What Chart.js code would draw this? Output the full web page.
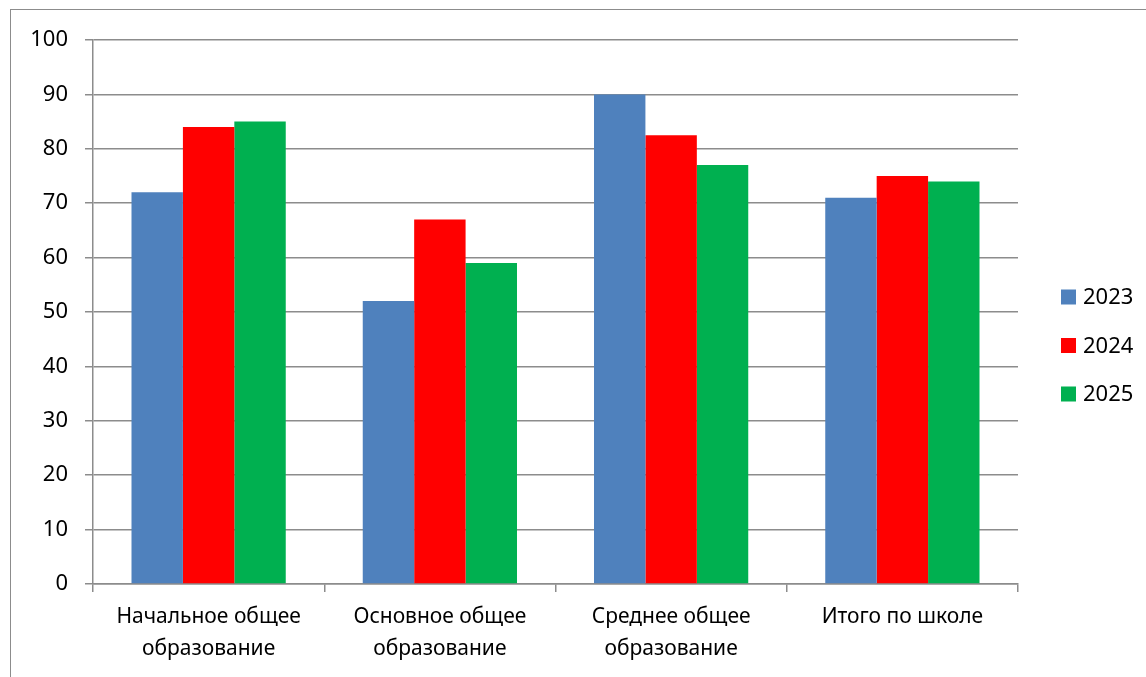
<!DOCTYPE html>
<html lang="ru">
<head>
<meta charset="utf-8">
<title>Успеваемость по уровням образования</title>
<script src="https://cdn.jsdelivr.net/npm/chart.js@4.4.1/dist/chart.umd.min.js"></script>
<style>
  html, body { margin: 0; padding: 0; background: #fff; overflow: hidden; }
  #wrap { position: relative; width: 1146px; height: 677px; }
  #frame {
    position: absolute; left: 10px; top: 9px; width: 1300px; height: 900px;
    border: 1px solid #8c8c8c; box-sizing: border-box; pointer-events: none;
  }
  #chart { position: absolute; left: 0; top: 0; }
</style>
</head>
<body>
<div id="wrap">
  <div id="frame"></div>
  <canvas id="chart" width="1146" height="677"></canvas>
</div>
<script>
// ── Data ────────────────────────────────────────
const categories = [
  ['Начальное общее', 'образование'],
  ['Основное общее', 'образование'],
  ['Среднее общее', 'образование'],
  ['Итого по школе'],
];
const seriesNames  = ['2023', '2024', '2025'];
const values2023   = [72, 52, 90, 71];
const values2024   = [84, 67, 82.5, 75];
const values2025   = [85, 59, 77, 74];
const seriesColors = ['#4F81BD', '#FF0000', '#00B050'];
const yTicks       = [0, 10, 20, 30, 40, 50, 60, 70, 80, 90, 100];

const FONT = "'Noto Sans', 'Open Sans', sans-serif";
const GRID = '#8c8c8c';

// ── Legend drawn to the right of the plot, Excel-style ──
const sideLegend = {
  id: 'sideLegend',
  afterDraw(chart) {
    const { ctx, chartArea } = chart;
    const x0 = chartArea.right + 43;
    const yMid = (chartArea.top + chartArea.bottom) / 2;
    const step = 48.5;
    const yStart = yMid - 15;   // Excel puts the legend a little below centre
    ctx.save();
    ctx.font = `22px ${FONT}`;
    ctx.textBaseline = 'middle';
    chart.data.datasets.forEach((d, i) => {
      const y = yStart + i * step;
      ctx.fillStyle = d.backgroundColor;
      ctx.fillRect(x0, y - 7.5, 15, 15);
      ctx.fillStyle = '#000';
      ctx.fillText(d.label, x0 + 22, y + 1);
    });
    ctx.restore();
  },
};

const allValues = [values2023, values2024, values2025];

new Chart(document.getElementById('chart'), {
  type: 'bar',
  data: {
    labels: categories,
    datasets: seriesNames.map((name, i) => ({
      label: name,
      data: allValues[i],
      backgroundColor: seriesColors[i],
      borderWidth: 0,
      categoryPercentage: 0.667,
      barPercentage: 1,
    })),
  },
  options: {
    responsive: false,
    animation: false,
    devicePixelRatio: 1,
    layout: { padding: { left: 10, top: 40, right: 128, bottom: 10 } },
    plugins: {
      legend: { display: false },
      tooltip: { enabled: false },
    },
    scales: {
      x: {
        grid: {
          offset: true, drawOnChartArea: false, drawTicks: true,
          tickLength: 8, color: GRID, lineWidth: 1.5,
        },
        border: { color: GRID, width: 1.5 },
        ticks: {
          color: '#000', padding: 9, maxRotation: 0, autoSkip: false,
          font: { family: FONT, size: 21, lineHeight: 1.54 },
        },
        afterFit(scale) { scale.height = 83; },
      },
      y: {
        min: 0, max: 100,
        afterBuildTicks(scale) { scale.ticks = yTicks.map((v) => ({ value: v })); },
        grid: { color: GRID, lineWidth: 1.5, tickLength: 8 },
        border: { color: GRID, width: 1.5 },
        ticks: {
          color: '#000', padding: 17,
          font: { family: FONT, size: 22 },
        },
        afterFit(scale) { scale.width = 83; },
      },
    },
  },
  plugins: [sideLegend],
});
</script>
</body>
</html>
